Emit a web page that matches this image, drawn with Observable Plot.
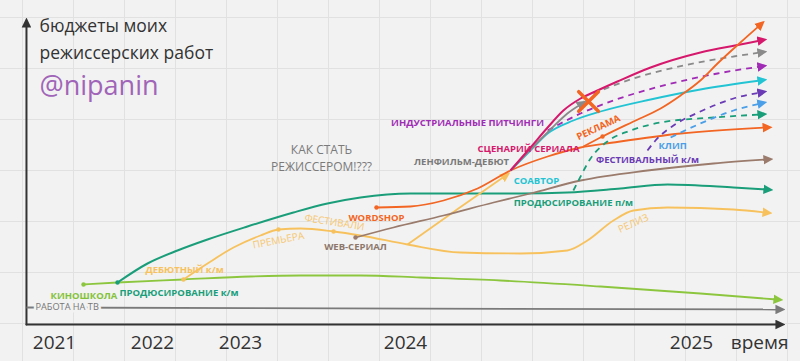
<!DOCTYPE html>
<html><head><meta charset="utf-8">
<script src="https://cdn.jsdelivr.net/npm/d3@7"></script>
<script src="https://cdn.jsdelivr.net/npm/@observablehq/plot@0.6"></script>
<style>
html,body{margin:0;padding:0;}
html{background:#f2f2f2;}
body{width:800px;height:361px;overflow:hidden;background-color:#f2f2f2;
background-image:linear-gradient(to right,#e1e1e1 0,#e1e1e1 1px,transparent 1px,transparent 51px),linear-gradient(to bottom,#e1e1e1 0,#e1e1e1 1px,transparent 1px,transparent 51px);
background-size:51px 51px;background-position:22px 17px;font-family:'Open Sans',sans-serif;}
</style></head><body><div id="chart"></div><script>
// ---- axis / tick labels ----
const years = [2021, 2022, 2023, 2024, 2025];
const axisStartX = 2020.714, axisEndX = 2025.304, axisTopY = 300;

// ---- series (x = time in years, y = budget, arbitrary units) ----
const tvX = [2020.714, 2025.304];
const tvY = [17, 15];
const kinoX = [2021.296, 2021.643, 2022.352, 2023.061, 2023.364, 2023.727, 2024.052, 2024.332, 2024.682, 2025.031, 2025.297];
const kinoY = [40, 42, 45, 48, 49, 49, 47, 44, 38, 31, 25];
const prodKmX = [2021.643, 2021.949, 2022.284, 2022.625, 2023.042, 2023.321, 2023.527, 2023.727, 2024.017, 2024.217, 2024.402, 2024.566, 2024.752, 2024.916, 2025.147, 2025.262];
const prodKmY = [42, 61, 74, 85, 98, 112, 121, 127, 131, 131, 131, 132, 136, 140, 137, 135];
const debutX = [2022.352, 2022.625, 2022.920, 2023.121, 2023.230, 2023.364, 2023.564, 2023.727, 2024.007, 2024.192, 2024.402, 2024.566, 2024.636, 2024.727, 2024.797, 2024.916, 2025.147, 2025.259];
const debutY = [45, 61, 77, 89, 95, 96, 93, 89, 80, 72, 71, 74, 84, 104, 114, 117, 115, 112];
const debutBranchX = [2024.007, 2024.185, 2024.346];
const debutBranchY = [80, 116, 148];
const webX = [2023.697, 2023.927, 2024.133, 2024.308, 2024.437, 2024.612, 2024.846, 2025.077, 2025.262];
const webY = [87, 97, 109, 122, 131, 144, 154, 161, 165];
const wordshopX = [2023.824, 2024.017, 2024.133, 2024.252, 2024.367, 2024.497, 2024.612, 2024.727, 2024.962, 2025.259];
const wordshopY = [117, 118, 124, 136, 154, 168, 177, 182, 191, 197];
const reklamaX = [2024.622, 2024.689, 2024.797, 2024.892, 2024.962, 2025.031, 2025.091, 2025.171, 2025.238];
const reklamaY = [178, 188, 203, 216, 229, 244, 261, 282, 299];
const serialX = [2024.367, 2024.437, 2024.497, 2024.552, 2024.612, 2024.671, 2024.741, 2024.857, 2025.031, 2025.171, 2025.241];
const serialY = [154, 177, 197, 214, 226, 234, 243, 257, 272, 280, 284];
const lenfilmX = [2024.367, 2024.437, 2024.507, 2024.566, 2024.612];
const lenfilmY = [154, 175, 195, 211, 220];
const lenfilmDashX = [2024.657, 2024.797, 2024.972, 2025.147, 2025.241];
const lenfilmDashY = [231, 246, 259, 268, 272];
const pitchX = [2024.497, 2024.612, 2024.727, 2024.916, 2025.091, 2025.241];
const pitchY = [194, 211, 224, 240, 251, 258];
const coauthorX = [2024.367, 2024.437, 2024.497, 2024.587, 2024.682, 2024.857, 2025.031, 2025.241];
const coauthorY = [154, 174, 191, 204, 213, 225, 235, 244];
const festKmX = [2024.846, 2024.874, 2024.937, 2025.031, 2025.147, 2025.241];
const festKmY = [174, 184, 199, 213, 226, 232];
const clipX = [2024.927, 2025.031, 2025.147, 2025.241];
const clipY = [187, 201, 214, 221];
const prodPmX = [2024.587, 2024.605, 2024.647, 2024.706, 2024.787, 2024.892, 2025.077, 2025.241];
const prodPmY = [134, 144, 166, 183, 194, 202, 207, 210];
const crossX = [2024.640];
const crossY = [223];

// ---- labels ----
const labelText = ["КИНОШКОЛА", "ПРОДЮСИРОВАНИЕ к/м", "ДЕБЮТНЫЙ к/м", "WEB-СЕРИАЛ", "WORDSHOP",
  "ЛЕНФИЛЬМ-ДЕБЮТ", "ИНДУСТРИАЛЬНЫЕ ПИТЧИНГИ", "СЦЕНАРИЙ СЕРИАЛА", "СОАВТОР", "РЕКЛАМА",
  "КЛИП", "ФЕСТИВАЛЬНЫЙ к/м", "ПРОДЮСИРОВАНИЕ п/м"];
const labelX = [2021.301, 2022.301, 2022.364, 2023.697, 2023.824, 2024.196, 2024.217, 2024.430, 2024.458, 2024.675, 2024.934, 2024.846, 2024.587];
const labelY = [29, 32, 55, 78, 107, 163, 202, 176, 144, 197, 179, 165, 122];
const noteText = ["ПРЕМЬЕРА", "ФЕСТИВАЛИ", "РЕЛИЗ", "КАК СТАТЬ", "РЕЖИССЕРОМ!???"];
const noteX = [2023.230, 2023.570, 2024.797, 2023.491, 2023.491];
const noteY = [84, 102, 101, 174, 157];
const tvLabel = "РАБОТА НА ТВ", tvLabelX = 2020.806, tvLabelY = 17;
const titleLines = ["бюджеты моих", "режиссерских работ"];
const titleX = 2020.847, titleY = [298, 271];
const handle = "@nipanin", handleY = 238;
const timeLabel = "время", timeLabelX = 2025.238, timeLabelY = -18;

// ---- styles ----
const C = {
  axis: "#333", tv: "#7a7a7a", kino: "#8cc63f", teal: "#1a9e7a", yellow: "#f7c25e",
  brown: "#9a7b6c", orange: "#f26522", magenta: "#d6186c", gray: "#8a8a8a",
  purple: "#a02cb5", cyan: "#22c4d4", violet: "#6a3bb5", blue: "#4a9fe8", handle: "#a064b8"
};
const labelColor = {
  "КИНОШКОЛА": "#84c23a", "ПРОДЮСИРОВАНИЕ к/м": C.teal, "ДЕБЮТНЫЙ к/м": C.yellow, "WEB-СЕРИАЛ": "#8d776b",
  "WORDSHOP": C.orange, "ЛЕНФИЛЬМ-ДЕБЮТ": "#7a7a7a", "ИНДУСТРИАЛЬНЫЕ ПИТЧИНГИ": C.purple,
  "СЦЕНАРИЙ СЕРИАЛА": C.magenta, "СОАВТОР": C.cyan, "РЕКЛАМА": C.orange, "КЛИП": C.blue,
  "ФЕСТИВАЛЬНЫЙ к/м": C.violet, "ПРОДЮСИРОВАНИЕ п/м": C.teal
};
const labelRotate = {"РЕКЛАМА": -25};
const noteColor = {"ПРЕМЬЕРА": "#f6c771", "ФЕСТИВАЛИ": "#f6c771", "РЕЛИЗ": "#f6c771", "КАК СТАТЬ": "#7a7a7a", "РЕЖИССЕРОМ!???": "#7a7a7a"};
const noteRotate = {"ПРЕМЬЕРА": -11, "ФЕСТИВАЛИ": 9, "РЕЛИЗ": -24};
const noteSize = {"КАК СТАТЬ": 12, "РЕЖИССЕРОМ!???": 12};

function triangle(color, context) {
  const ns = "http://www.w3.org/2000/svg";
  const doc = context && context.document ? context.document : document;
  const m = doc.createElementNS(ns, "marker");
  m.setAttribute("viewBox", "0 -5 10 10");
  m.setAttribute("refX", "3");
  m.setAttribute("refY", "0");
  m.setAttribute("markerWidth", "10");
  m.setAttribute("markerHeight", "10");
  m.setAttribute("markerUnits", "userSpaceOnUse");
  m.setAttribute("orient", "auto");
  const p = doc.createElementNS(ns, "path");
  p.setAttribute("d", "M0,-4.8L10,0L0,4.8Z");
  p.setAttribute("fill", color);
  p.setAttribute("stroke", "none");
  m.appendChild(p);
  return m;
}

const rows = (xs, ys) => xs.map((x, i) => ({x, y: ys[i]}));

const lineDefs = [
  {x: tvX, y: tvY, color: C.tv, w: 1.8, curve: "linear"},
  {x: kinoX, y: kinoY, color: C.kino, w: 1.8},
  {x: prodKmX, y: prodKmY, color: C.teal, w: 2},
  {x: debutX, y: debutY, color: C.yellow, w: 1.8},
  {x: debutBranchX, y: debutBranchY, color: C.yellow, w: 1.8},
  {x: webX, y: webY, color: C.brown, w: 1.8},
  {x: wordshopX, y: wordshopY, color: C.orange, w: 1.8},
  {x: prodPmX, y: prodPmY, color: C.teal, w: 1.8, dash: "6,5"},
  {x: clipX, y: clipY, color: C.blue, w: 1.8, dash: "6,5"},
  {x: festKmX, y: festKmY, color: C.violet, w: 1.8, dash: "6,5"},
  {x: coauthorX, y: coauthorY, color: C.cyan, w: 1.8},
  {x: pitchX, y: pitchY, color: C.purple, w: 1.8, dash: "6,5"},
  {x: lenfilmX, y: lenfilmY, color: C.gray, w: 1.8},
  {x: lenfilmDashX, y: lenfilmDashY, color: C.gray, w: 1.8, dash: "6,5"},
  {x: serialX, y: serialY, color: C.magenta, w: 2},
  {x: reklamaX, y: reklamaY, color: C.orange, w: 1.8}
];

const startDots = [
  {x: kinoX[0], y: kinoY[0], c: C.kino},
  {x: prodKmX[0], y: prodKmY[0], c: C.teal},
  {x: debutX[0], y: debutY[0], c: C.yellow},
  {x: debutX[4], y: debutY[4], c: C.yellow},
  {x: debutX[6], y: debutY[6], c: C.yellow},
  {x: webX[0], y: webY[0], c: C.brown},
  {x: wordshopX[0], y: wordshopY[0], c: C.orange},
  {x: reklamaX[1], y: reklamaY[1], c: C.orange}
];

const labels = labelText.map((t, i) => ({t, x: labelX[i], y: labelY[i]}));
const notes = noteText.map((t, i) => ({t, x: noteX[i], y: noteY[i]}));

const marks = [
  // axes
  Plot.line([{x: axisStartX, y: 0}, {x: axisStartX, y: axisTopY}], {x: "x", y: "y", stroke: C.axis, strokeWidth: 2, markerEnd: triangle}),
  Plot.line([{x: axisStartX, y: 0}, {x: axisEndX, y: 0}], {x: "x", y: "y", stroke: C.axis, strokeWidth: 2, markerEnd: triangle}),
  Plot.axisX(years, {tickSize: 0, tickPadding: 11, fontSize: 19, fill: "#333", tickFormat: d => String(d), label: null}),
  ...lineDefs.map(d => Plot.line(rows(d.x, d.y), {
    x: "x", y: "y", stroke: d.color, strokeWidth: d.w, strokeDasharray: d.dash,
    curve: d.curve || "monotone-x", markerEnd: triangle, strokeLinecap: "butt"
  })),
  Plot.dot(startDots, {x: "x", y: "y", fill: "c", r: 2.2}),
  Plot.dot(rows(crossX, crossY), {x: "x", y: "y", symbol: "times", r: 9, stroke: C.orange, strokeWidth: 3.5, strokeLinecap: "round"}),
  Plot.text([tvLabel], {x: () => tvLabelX, y: () => tvLabelY, text: d => d, textAnchor: "start", fontSize: 9.2, fill: "#777", stroke: "#f2f2f2", strokeWidth: 5}),
  Plot.text(labels, {x: "x", y: "y", text: "t", fill: d => labelColor[d.t], rotate: d => labelRotate[d.t] || 0, fontSize: 9.5, fontWeight: "bold"}),
  Plot.text(notes, {x: "x", y: "y", text: "t", fill: d => noteColor[d.t], rotate: d => noteRotate[d.t] || 0, fontSize: d => noteSize[d.t] || 10}),
  Plot.text(titleLines, {x: () => titleX, y: (d, i) => titleY[i], text: d => d, textAnchor: "start", fontSize: 17.5, fill: "#333"}),
  Plot.text([handle], {x: () => titleX, y: () => handleY, text: d => d, textAnchor: "start", fontSize: 27, fill: C.handle}),
  Plot.text([timeLabel], {x: () => timeLabelX, y: () => timeLabelY, text: d => d, fontSize: 19, fill: "#333"})
];

const chart = Plot.plot({
  width: 800, height: 361,
  marginLeft: 26, marginRight: 15, marginTop: 18, marginBottom: 37,
  x: {type: "linear", domain: years, range: [54, 152, 240, 405, 691], label: null},
  y: {domain: [0, 306], range: [324, 18], axis: null, label: null},
  color: {type: "identity"},
  style: {background: "transparent", fontFamily: "'Open Sans', sans-serif", overflow: "visible"},
  marks
});
document.getElementById("chart").appendChild(chart);
</script></body></html>
